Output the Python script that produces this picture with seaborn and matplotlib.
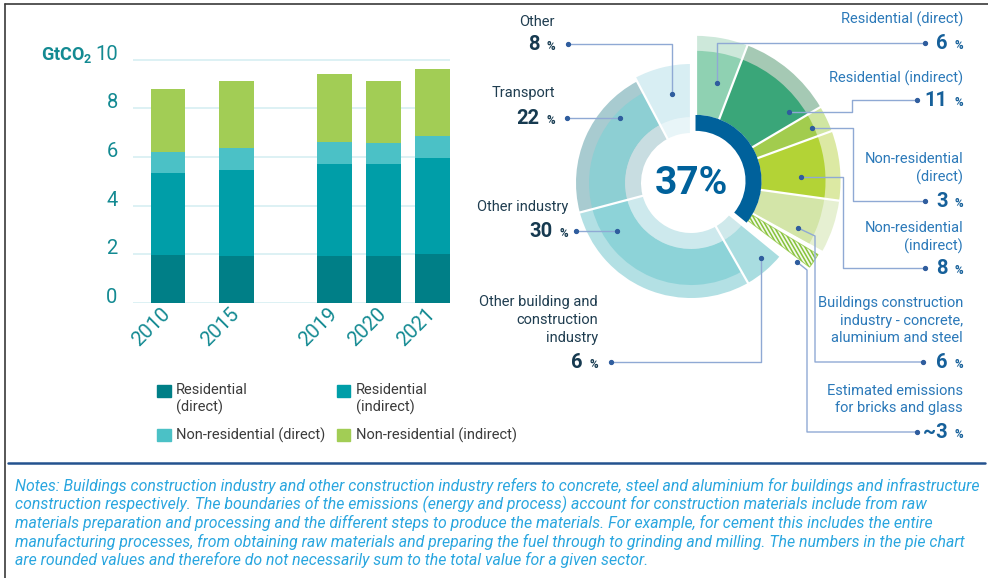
import numpy as np
import pandas as pd
import matplotlib
matplotlib.use('Agg')
import matplotlib.pyplot as plt
import matplotlib.transforms as mtransforms
from matplotlib.patches import Wedge, Patch, Rectangle
from matplotlib.legend_handler import HandlerPatch
import seaborn as sns

# ---- stacked bars: buildings emissions (GtCO2) ----
years = ['2010', '2015', '2019', '2020', '2021']
res_direct = [1.97, 1.93, 1.95, 1.95, 2.00]
res_indirect = [3.36, 3.52, 3.76, 3.76, 3.96]
nonres_direct = [0.86, 0.92, 0.90, 0.87, 0.90]
nonres_indirect = [2.61, 2.76, 2.80, 2.55, 2.76]
series_labels = ['Residential\n(direct)', 'Residential\n(indirect)',
                 'Non-residential (direct)', 'Non-residential (indirect)']
y_ticks = [0, 2, 4, 6, 8, 10]

# ---- donut: share of global CO2 (%) ----
sector_share = [6, 11, 3, 8, 6, 3, 6, 30, 22, 8]
sector_text = ['6', '11', '3', '8', '6', '~3', '6', '30', '22', '8']
sector_labels = [
    ['Residential (direct)'],
    ['Residential (indirect)'],
    ['Non-residential', '(direct)'],
    ['Non-residential', '(indirect)'],
    ['Buildings construction', 'industry - concrete,', 'aluminium and steel'],
    ['Estimated emissions', 'for bricks and glass'],
    ['Other building and', 'construction', 'industry'],
    ['Other industry'],
    ['Transport'],
    ['Other'],
]
n_buildings = 6
buildings_total = '37%'

notes = [
    'Notes: Buildings construction industry and other construction industry refers to concrete, steel and aluminium for buildings and infrastructure',
    'construction respectively. The boundaries of the emissions (energy and process) account for construction materials include from raw',
    'materials preparation and processing and the different steps to produce the materials. For example, for cement this includes the entire',
    'manufacturing processes, from obtaining raw materials and preparing the fuel through to grinding and milling. The numbers in the pie chart',
    'are rounded values and therefore do not necessarily sum to the total value for a given sector.',
]

# ---- styling / layout ----
year_slot = [0, 1.4, 3.4, 4.4, 5.4]
bar_colors = ['#007f87', '#009ea8', '#4bc1c6', '#a2cd55']
teal_txt = '#138a92'
dark_ring = '#00619b'
main_colors = ['#8fd1b2', '#3aa679', '#a2cc4e', '#b3d336', '#d3e5a8', '#ffffff',
               '#a9dde0', '#8dd3d8', '#8dcfd3', '#d8eef3']
band_colors = ['#cde8da', '#a5c9b4', '#d0e6a2', '#dce9a3', '#e6f0d2', '#ffffff',
               '#a9dde0', '#b3e0e4', '#a8cbd0', '#d8eef3']
ring_colors = [None] * 6 + ['#cfe9eb', '#cde9ed', '#c8dde1', '#e8f5f8']

sns.set_style('white')
plt.rcParams['font.family'] = ['Roboto', 'DejaVu Sans']
plt.rcParams['mathtext.fontset'] = 'custom'
plt.rcParams['mathtext.rm'] = 'Roboto'
plt.rcParams['mathtext.bf'] = 'Roboto:bold'

fig = plt.figure(figsize=(9.88, 5.78), dpi=100)

# ===== bar chart =====
ax = fig.add_axes([0.1346, 0.4758, 0.321, 0.422])
layers = np.cumsum([res_direct, res_indirect, nonres_direct, nonres_indirect], axis=0)
for i in reversed(range(4)):
    sns.barplot(x=year_slot, y=layers[i], native_scale=True, orient='x', width=0.7,
                color=bar_colors[i], saturation=1, errorbar=None, linewidth=0, ax=ax)

ax.set_xlim(-0.71, 5.76)
ax.set_ylim(0, 10.03)
ax.set_yticks(y_ticks)
ax.set_xticks(year_slot, years)
ax.set_xlabel('')
ax.set_ylabel('')
sns.despine(ax=ax, left=True, bottom=True)
ax.yaxis.grid(True, color='#d3edf1', lw=1.1)
ax.xaxis.grid(False)
ax.set_axisbelow(True)
ax.tick_params(axis='y', length=0, pad=11, labelsize=14.5, labelcolor=teal_txt)
ax.tick_params(axis='x', length=0, pad=6, labelsize=14.5, labelcolor=teal_txt)
for t in ax.get_yticklabels():
    t.set_verticalalignment('baseline')
for t in ax.get_xticklabels():
    t.set_rotation(45)
    t.set_ha('right')
    t.set_va('center')
    t.set_rotation_mode('anchor')
ax.text(-0.129, 10, r'GtCO$_\mathbf{2}$', transform=mtransforms.blended_transform_factory(ax.transAxes, ax.transData),
        ha='right', va='baseline', fontsize=13, fontweight='bold', color=teal_txt)


def square_on_first_line(legend, orig_handle, xdescent, ydescent, width, height, fontsize):
    return Rectangle((-xdescent, -ydescent + 0.62 * fontsize), width, height)


handles = [Patch(color=bar_colors[k]) for k in [0, 2, 1, 3]]
labels = [series_labels[k] for k in [0, 2, 1, 3]]
two_line = HandlerPatch(patch_func=square_on_first_line)
fig.legend(handles, labels, ncol=2, loc='upper left', bbox_to_anchor=(0.152, 1 - 376 / 578),
           frameon=False, fontsize=10.5, handlelength=0.9, handleheight=0.9, handletextpad=0.35,
           columnspacing=0.85, labelspacing=0.9, borderpad=0, labelcolor='#3b3b3b',
           handler_map={handles[0]: two_line, handles[2]: two_line})

# ===== donut + annotations (pixel coordinates, y down) =====
ax2 = fig.add_axes([0, 0, 1, 1])
ax2.set_xlim(0, 988)
ax2.set_ylim(578, 0)
ax2.axis('off')

C = np.array([691.0, 183.0])
total = sum(sector_share)
span = np.array(sector_share) / total * 360
hi = 90 - np.concatenate([[0], np.cumsum(span)[:-1]])
lo = hi - span
mid_b = (hi[0] + lo[n_buildings - 1]) / 2
CB = C + 5 * np.array([np.cos(np.radians(mid_b)), -np.sin(np.radians(mid_b))])


def unit(a):
    return np.array([np.cos(np.radians(a)), -np.sin(np.radians(a))])


def wedge(c, r0, r1, a_lo, a_hi, **kw):
    w = Wedge(tuple(c), r1, -a_hi, -a_lo, width=r1 - r0, **kw)
    ax2.add_patch(w)
    return w


def spoke(c, a, r0, r1):
    p0, p1 = c + r0 * unit(a), c + r1 * unit(a)
    ax2.plot([p0[0], p1[0]], [p0[1], p1[1]], color='white', lw=1.6, solid_capstyle='butt', zorder=4)


for i in range(len(sector_share)):
    if i < n_buildings:
        c, r_base, r_mid, r_out = CB, 66, 130, 145
    else:
        c, r_base, r_mid, r_out = C, 66, 102, (119 if i == 9 else 115)
        wedge(c, 50, 66, lo[i], hi[i], color=ring_colors[i], lw=0, zorder=2)
    if i == 5:
        # hatched strip for bricks and glass
        strip = wedge(c, 66, 143, lo[i] + 2.2, hi[i] - 2.2, facecolor='#f4f9ec',
                      edgecolor='#a9d46a', lw=0.7, zorder=2)
        m = c + 105 * unit((lo[i] + hi[i]) / 2)
        d = np.array([0.5, 0.866])
        nrm = np.array([0.866, -0.5])
        for s in np.arange(-70, 71, 3.3):
            p0, p1 = m + s * nrm - 60 * d, m + s * nrm + 60 * d
            ln, = ax2.plot([p0[0], p1[0]], [p0[1], p1[1]], color='#86c23a', lw=1.1, zorder=3)
            ln.set_clip_path(strip)
        continue
    wedge(c, r_base, r_out, lo[i], hi[i], color=band_colors[i], lw=0, zorder=2)
    wedge(c, r_base, r_mid, lo[i], hi[i], color=main_colors[i], lw=0, zorder=3)

wedge(CB, 50, 66, lo[n_buildings - 1], hi[0], color=dark_ring, lw=0, zorder=3)
for a in np.concatenate([[hi[0]], lo[:n_buildings - 2]]):
    spoke(CB, a, 66, 150)
for a in np.concatenate([[hi[n_buildings]], lo[n_buildings:]]):
    spoke(C, a, 49, 122)

ax2.text(C[0], C[1], buildings_total, ha='center', va='center', fontsize=28,
         fontweight='bold', color=dark_ring, zorder=5)

# label layout: right edge x, line y's, number y, leader path
label_layout = [
    (963, [19], 43, [(925, 43), (717, 43), (717, 83)]),
    (963, [78], 100, [(917, 100), (852, 100), (852, 112), (789, 112)]),
    (963, [159, 177], 201, [(925, 201), (853, 201), (853, 128), (812, 128)]),
    (963, [228, 246], 268, [(925, 268), (843, 268), (843, 177), (801, 177)]),
    (963, [303, 321, 338], 362, [(923, 362), (815, 362), (815, 236), (798, 228)]),
    (963, [391, 408], 432, [(917, 432), (807, 432), (807, 270), (797, 262)]),
    (598, [302, 320, 338], 362, [(611, 362), (761, 362), (761, 258)]),
    (568, [207], 231, [(576, 231), (617, 231)]),
    (555, [93], 118, [(567, 118), (620, 118)]),
    (555, [22], 44, [(568, 44), (672, 44), (672, 94)]),
]
for i, (xr, ys, yn, path) in enumerate(label_layout):
    right = i < n_buildings
    name_col = '#2b79b9' if right else '#1f3d50'
    num_col = '#16609a' if right else '#163a50'
    for line, y in zip(sector_labels[i], ys):
        ax2.text(xr, y, line, ha='right', va='center', fontsize=10.5, color=name_col)
    ax2.text(xr - 15.5, yn + 6, sector_text[i], ha='right', va='baseline', fontsize=14.5,
             fontweight='bold', color=num_col)
    ax2.text(xr, yn + 6, '%', ha='right', va='baseline', fontsize=8.5,
             fontweight='bold', color=num_col)
    px, py = zip(*path)
    ax2.plot(px, py, color='#8fa9d4', lw=1.0, zorder=6)
    ax2.plot([px[0], px[-1]], [py[0], py[-1]], 'o', color='#2f5d9e', ms=2.8, zorder=7)

# frame, rule and notes
ax2.plot([5, 988], [4, 4], color='#3a3a3a', lw=1.2)
ax2.plot([5, 5], [4, 578], color='#3a3a3a', lw=1.2)
ax2.plot([8, 985], [463, 463], color='#24528f', lw=1.8)
for k, line in enumerate(notes):
    ax2.text(15, 486 + k * 18.5, line, ha='left', va='center', fontsize=11.4, style='italic',
             color='#2aa6df')

fig.savefig('out.png', dpi=100)
